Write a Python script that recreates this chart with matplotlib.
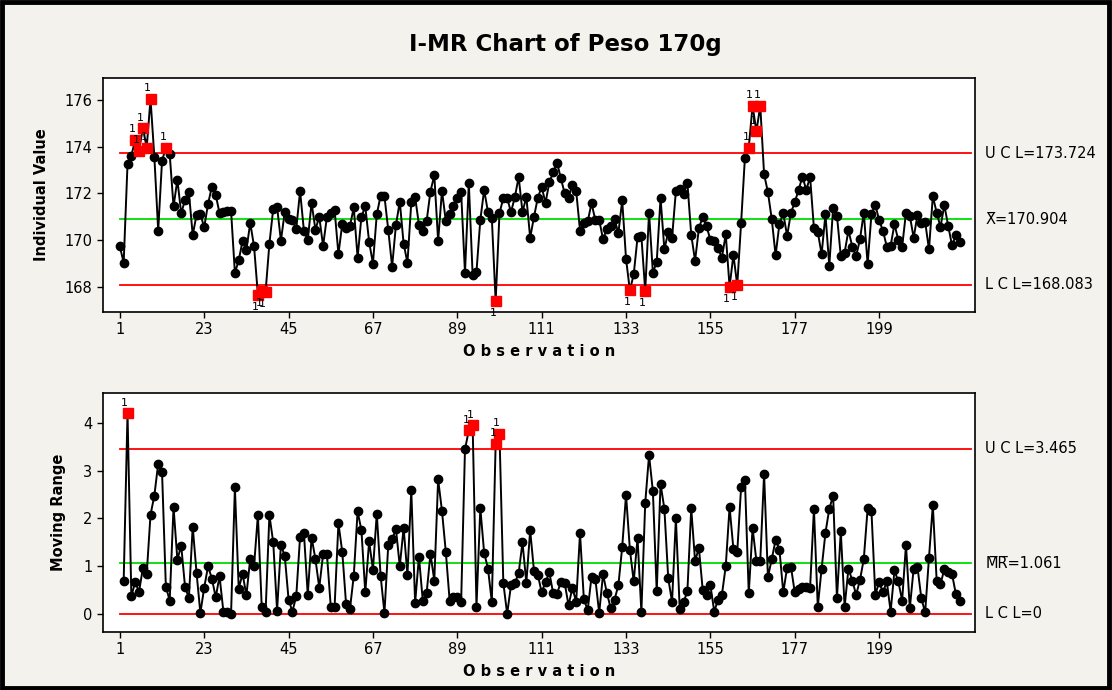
import numpy as np
import matplotlib
matplotlib.use("Agg")
import matplotlib.pyplot as plt
from matplotlib.patches import Rectangle
from matplotlib.transforms import blended_transform_factory

# individual values (Peso 170g)
peso = [
    169.73, 169.04, 173.25, 173.62, 174.29, 173.83, 174.79, 173.96, 176.04, 173.56,
    170.41, 173.39, 173.96, 173.68, 171.44, 172.58, 171.15, 171.72, 172.05, 170.22,
    171.08, 171.10, 170.55, 171.55, 172.29, 171.94, 171.15, 171.20, 171.25, 171.25,
    168.60, 169.13, 169.97, 169.58, 170.74, 169.73, 167.66, 167.81, 167.78, 169.85,
    171.35, 171.42, 169.98, 171.20, 170.90, 170.85, 170.48, 172.10, 170.40, 170.00,
    171.60, 170.45, 171.00, 169.75, 171.00, 171.15, 171.30, 169.40, 170.70, 170.50,
    170.60, 171.40, 169.25, 171.00, 171.45, 169.93, 169.00, 171.10, 171.90, 171.88,
    170.43, 168.87, 170.65, 171.65, 169.85, 169.03, 171.62, 171.85, 170.65, 170.38,
    170.82, 172.08, 172.78, 169.96, 172.12, 170.82, 171.10, 171.45, 171.80, 172.05,
    168.60, 172.45, 168.50, 168.65, 170.87, 172.15, 171.20, 170.95, 167.38, 171.15,
    171.80, 171.80, 171.20, 171.84, 172.70, 171.20, 171.85, 170.10, 171.00, 171.82,
    172.27, 171.60, 172.47, 172.90, 173.32, 172.65, 172.00, 171.82, 172.36, 172.10,
    170.41, 170.72, 170.80, 171.58, 170.85, 170.87, 170.04, 170.48, 170.60, 170.90,
    170.30, 171.70, 169.20, 167.85, 168.53, 170.12, 170.16, 167.84, 171.17, 168.60,
    169.07, 171.80, 169.60, 170.35, 170.10, 172.10, 172.20, 171.96, 172.44, 170.23,
    169.12, 170.50, 171.00, 170.60, 170.00, 169.95, 169.65, 169.25, 170.25, 168.01,
    169.37, 168.07, 170.72, 173.53, 173.96, 175.76, 174.65, 175.76, 172.82, 172.05,
    170.90, 169.35, 170.70, 171.15, 170.18, 171.17, 171.62, 172.15, 172.72, 172.15,
    172.70, 170.50, 170.35, 169.40, 171.10, 168.90, 171.38, 171.05, 169.32, 169.47,
    170.42, 169.72, 169.32, 170.03, 171.18, 168.97, 171.12, 171.52, 170.85, 170.40,
    169.72, 169.77, 170.68, 170.00, 169.72, 171.17, 171.05, 170.10, 171.08, 170.75,
    170.78, 169.60, 171.88, 171.18, 170.56, 171.50, 170.62, 169.78, 170.20, 169.93,
]

# control limits printed on the chart
i_ucl, i_cl, i_lcl = 173.724, 170.904, 168.083
mr_ucl, mr_cl, mr_lcl = 3.465, 1.061, 0.0

xticks = [1, 23, 45, 67, 89, 111, 133, 155, 177, 199]

obs = np.arange(1, len(peso) + 1)
vals = np.array(peso)
mr = np.abs(np.diff(vals))
mr_obs = obs[1:]

bg = "#f4f2ec"
fig = plt.figure(figsize=(11.12, 6.9), dpi=100, facecolor=bg)
fig.patches.append(Rectangle((0.002, 0.003), 0.995, 0.994, transform=fig.transFigure,
                             fill=False, edgecolor="black", linewidth=3.5))

fig.text(0.508, 0.935, "I-MR Chart of Peso 170g", ha="center", va="center",
         fontsize=16.5, fontweight="bold")

ax1 = fig.add_axes([0.0926, 0.548, 0.7842, 0.339])
ax2 = fig.add_axes([0.0926, 0.084, 0.7842, 0.3464])


def draw(ax, x, y, ucl, cl, lcl, ylim, yticks, ylabel, lbl_x, cl_text, ucl_text, lcl_text):
    ax.set_facecolor("white")
    ax.axhline(ucl, color="#ff0000", lw=1.3, xmin=0.02, xmax=0.995, zorder=1)
    ax.axhline(cl, color="#00dd00", lw=1.3, xmin=0.02, xmax=0.995, zorder=1)
    ax.axhline(lcl, color="#ff0000", lw=1.3, xmin=0.02, xmax=0.995, zorder=1)
    ax.plot(x, y, color="black", lw=1.4, marker="o", ms=6, mfc="black", zorder=2)
    out = (y > ucl) | (y < lcl)
    ax.plot(x[out], y[out], ls="none", marker="s", ms=7, color="#ff0000", zorder=3)
    for xi, yi in zip(x[out], y[out]):
        if yi > ucl:
            ax.annotate("1", (xi, yi), xytext=(-2, 4), textcoords="offset points",
                        ha="center", va="bottom", fontsize=8)
        else:
            ax.annotate("1", (xi, yi), xytext=(-2, -5), textcoords="offset points",
                        ha="center", va="top", fontsize=8)
    ax.set_xlim(-3.4, 224)
    ax.set_ylim(*ylim)
    ax.set_xticks(xticks)
    ax.set_yticks(yticks)
    ax.tick_params(labelsize=10.5, length=4, width=1)
    for s in ax.spines.values():
        s.set_linewidth(1.2)
    ax.set_xlabel("O b s e r v a t i o n", fontsize=10.5, fontweight="bold", labelpad=5)
    ax.set_ylabel(ylabel, fontsize=10.5, fontweight="bold")
    ax.yaxis.set_label_coords(lbl_x, 0.5)
    tr = blended_transform_factory(ax.transAxes, ax.transData)
    ax.text(1.012, ucl, ucl_text, transform=tr, va="center", fontsize=10.5)
    ax.text(1.012, cl, cl_text, transform=tr, va="center", fontsize=10.5)
    ax.text(1.012, lcl, lcl_text, transform=tr, va="center", fontsize=10.5)


draw(ax1, obs, vals, i_ucl, i_cl, i_lcl, (166.93, 176.94), [168, 170, 172, 174, 176],
     "Individual Value", -0.062, "X\u0305=170.904", "U C L=173.724", "L C L=168.083")
draw(ax2, mr_obs, mr, mr_ucl, mr_cl, mr_lcl, (-0.38, 4.63), [0, 1, 2, 3, 4],
     "Moving Range", -0.042, "M\u0305R\u0305=1.061", "U C L=3.465", "L C L=0")

fig.savefig("out.png", dpi=100, facecolor=bg)
